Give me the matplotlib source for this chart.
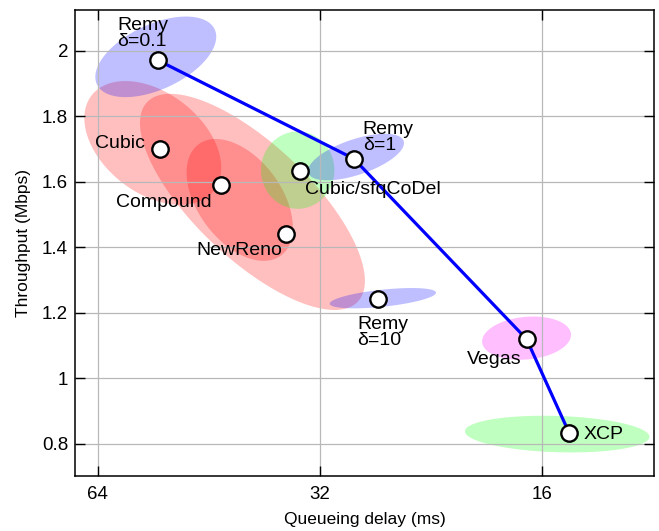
import numpy as np
import matplotlib
matplotlib.use("Agg")
import matplotlib.pyplot as plt

plt.rcParams['font.family'] = ['Liberation Sans', 'DejaVu Sans']

# ---- data -------------------------------------------------------------
names = ["Remy\nδ=0.1", "Cubic", "Compound", "NewReno", "Cubic/sfqCoDel",
         "Remy\nδ=1", "Remy\nδ=10", "Vegas", "XCP"]
delay_ms = [53.1, 52.7, 43.6, 35.6, 34.1, 28.8, 26.7, 16.8, 14.7]
throughput = [1.971, 1.70, 1.591, 1.441, 1.631, 1.670, 1.240, 1.119, 0.831]

# efficient frontier (indices into the lists above)
frontier = [0, 5, 7, 8]

# 1-sigma ellipses: centre, std of log2(delay), std of throughput, correlation
ell_names = ["Cubic", "Compound", "NewReno", "Cubic/sfqCoDel",
             "Remy δ=0.1", "Remy δ=1", "Remy δ=10", "Vegas", "XCP"]
ell_delay = [53.9, 39.5, 41.1, 34.3, 53.4, 28.6, 26.3, 16.8, 15.27]
ell_tput = [1.718, 1.538, 1.544, 1.635, 1.981, 1.675, 1.244, 1.122, 0.829]
ell_sd_log2 = [0.308, 0.506, 0.239, 0.165, 0.272, 0.216, 0.239, 0.200, 0.415]
ell_sd_tput = [0.189, 0.330, 0.186, 0.118, 0.123, 0.071, 0.031, 0.066, 0.056]
ell_corr = [0.40, 0.73, 0.45, 0.0, -0.5, -0.6, -0.54, -0.15, 0.15]

x_ticks = [64, 32, 16]
y_ticks = [0.8, 1.0, 1.2, 1.4, 1.6, 1.8, 2.0]
y_ticklabels = ["0.8", "1", "1.2", "1.4", "1.6", "1.8", "2"]

# ---- styles -----------------------------------------------------------
ell_colors = ["red", "red", "red", "#00ff00", "blue", "blue", "blue",
              "magenta", "#00ff00"]
# label placement: (dx, dy) in pixels, ha, va
label_style = [(-40, 10, 'left', 'bottom'),
               (-15, 1, 'right', 'baseline'),
               (-9, -22, 'right', 'baseline'),
               (-4, -21, 'right', 'baseline'),
               (5, -23, 'left', 'baseline'),
               (9, 5, 'left', 'bottom'),
               (-21, -17, 'left', 'top'),
               (-5, -25, 'right', 'baseline'),
               (14, -6, 'left', 'baseline')]

fig = plt.figure(figsize=(6.59, 5.31), dpi=100)
ax = fig.add_axes([75 / 659, 1 - 476 / 531, (654 - 75) / 659, (476 - 10) / 531])
ax.set_xscale('log', base=2)

t = np.linspace(0, 2 * np.pi, 300)
for d, y0, su, sy, r, c in zip(ell_delay, ell_tput, ell_sd_log2, ell_sd_tput,
                               ell_corr, ell_colors):
    u = np.log2(d) + su * np.cos(t)
    yy = y0 + sy * (r * np.cos(t) + np.sqrt(1 - r * r) * np.sin(t))
    ax.fill(2.0 ** u, yy, color=c, alpha=0.25, lw=0, zorder=1)

fx = [delay_ms[i] for i in frontier]
fy = [throughput[i] for i in frontier]
ax.plot(fx, fy, color='blue', lw=2.3, zorder=3)
ax.plot(delay_ms, throughput, 'o', ms=11.8, mfc='white', mec='black',
        mew=1.7, zorder=4)

for n, x, y, (dx, dy, ha, va) in zip(names, delay_ms, throughput, label_style):
    ax.annotate(n, (x, y), xytext=(dx, dy), textcoords='offset pixels',
                ha=ha, va=va, fontsize=14, linespacing=0.92, zorder=5)

ax.set_xlim(68.7, 11.29)
ax.set_ylim(0.701, 2.124)
ax.set_xticks(x_ticks)
ax.set_xticklabels([str(v) for v in x_ticks])
ax.xaxis.set_minor_locator(matplotlib.ticker.NullLocator())
ax.set_yticks(y_ticks)
ax.set_yticklabels(y_ticklabels)
ax.tick_params(direction='in', length=7.5, width=1, labelsize=13.5,
               top=True, right=True, pad=7)
ax.tick_params(axis='y', pad=5)
ax.grid(True, color='#b8b8b8', lw=0.9)
for s in ax.spines.values():
    s.set_linewidth(1.1)
ax.set_xlabel("Queueing delay (ms)", fontsize=12.5, labelpad=7)
ax.set_ylabel("Throughput (Mbps)", fontsize=12.5, labelpad=8)

fig.savefig("out.png", dpi=100)
